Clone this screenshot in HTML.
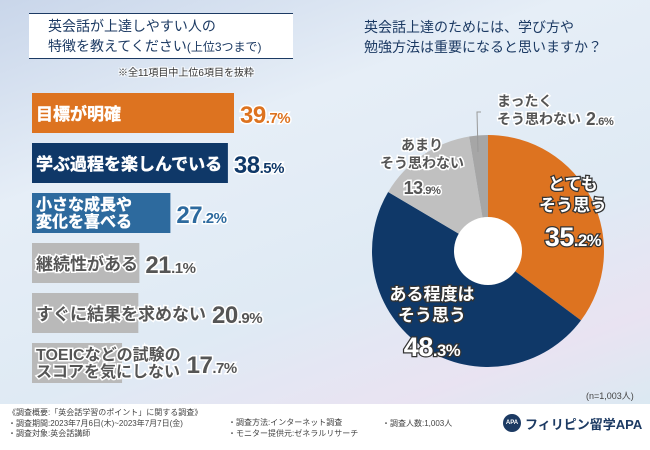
<!DOCTYPE html>
<html><head><meta charset="utf-8">
<style>
body{margin:0;width:650px;height:450px;overflow:hidden;font-family:"Liberation Sans","Noto Sans CJK JP",sans-serif;}
#root{position:relative;width:650px;height:450px;background:linear-gradient(160deg,#c9d6ea 0%,#e6eef7 30%,#dfeaf4 60%,#e9e3f2 80%,#d4ecf2 100%);}
.t{position:absolute;white-space:nowrap;}
.box{position:absolute;left:29px;top:13px;width:264px;height:44px;background:#fff;border-top:1.5px solid #1c3a63;border-bottom:1.5px solid #1c3a63;}
.out{text-shadow:-1px -1px 0 #fff,1px -1px 0 #fff,-1px 1px 0 #fff,1px 1px 0 #fff,0 0 2px #fff;}
</style></head><body>
<div id="root">
<div class="box"></div>
<div class="t" style="left:48px;top:16px;font-size:14px;line-height:20px;color:#1c3a63;">英会話が上達しやすい人の<br>特徴を教えてください<span style="font-size:12px">(上位3つまで)</span></div>
<div class="t out" style="left:118px;top:64px;font-size:10px;color:#333;">※全11項目中上位6項目を抜粋</div>
<div class="t" style="left:364px;top:17px;font-size:14px;line-height:20px;color:#1c3a63;">英会話上達のためには、学び方や<br>勉強方法は重要になると思いますか？</div>
<svg id="chart" width="650" height="450" style="position:absolute;left:0;top:0"></svg>
<div class="t" style="left:586px;top:389px;font-size:9px;color:#444;">(n=1,003人)</div>
<div style="position:absolute;left:0;top:404px;width:650px;height:46px;background:#fff;"></div>
<div class="t" style="left:8px;top:408px;font-size:8px;line-height:10.5px;color:#444;">《調査概要:「英会話学習のポイント」に関する調査》<br>・調査期間:2023年7月6日(木)~2023年7月7日(金)<br>・調査対象:英会話講師</div>
<div class="t" style="left:228px;top:418px;font-size:8px;line-height:10.5px;color:#444;">・調査方法:インターネット調査<br>・モニター提供元:ゼネラルリサーチ</div>
<div class="t" style="left:382px;top:418px;font-size:8px;color:#444;">・調査人数:1,003人</div>
<div style="position:absolute;left:503px;top:414px;width:18px;height:18px;border-radius:50%;background:#1c3a63;color:#fff;font-size:6px;line-height:18px;text-align:center;font-weight:bold">APA</div>
<div class="t" style="left:525px;top:414px;font-size:13px;font-weight:bold;color:#1c3a63;">フィリピン留学APA</div>
</div>
<script>
const barLabels=[["目標が明確"],["学ぶ過程を楽しんでいる"],["小さな成長や","変化を喜べる"],["継続性がある"],["すぐに結果を求めない"],["TOEICなどの試験の","スコアを気にしない"]];
const barValues=[39.7,38.5,27.2,21.1,20.9,17.7];
const barColors=["#dd7320","#0f3868","#2d6a9e","#b9b9b9","#b9b9b9","#b9b9b9"];
const pieLabels=[["とても","そう思う"],["ある程度は","そう思う"],["あまり","そう思わない"],["まったく","そう思わない"]];
const pieValues=[35.2,48.3,13.9,2.6];
const pieColors=["#dd7320","#0f3868","#c0c0c0","#a6a6a6"];
const svg=document.getElementById('chart');
const NS="http://www.w3.org/2000/svg";
function mk(tag,attrs){const e=document.createElementNS(NS,tag);for(const k in attrs)e.setAttribute(k,attrs[k]);svg.appendChild(e);return e;}
const x0=32,pxPer=202/39.7,y0=93,step=50,bh=40;
function xs(v){return v*pxPer;}
function fmt(v){return v.toFixed(1).split('.');}
barValues.forEach((v,i)=>{
 const y=y0+i*step;
 const r=mk('rect',{x:x0,y:y,width:xs(v),height:bh,fill:barColors[i]});
 
 
 const dark=i<3;
 const lines=barLabels[i];
 const fs=lines.length>1?16:17;
 let maxW=0;
 lines.forEach((l,j)=>{
  const t=mk('text',{x:x0+4,y:y+(lines.length>1?17+j*17:27),'font-size':fs,fill:dark?'#fff':'#555','font-weight':'bold'});
  if(dark){t.setAttribute('stroke','#fff');t.setAttribute('stroke-width','0.4');}
  else{t.setAttribute('stroke','#fff');t.setAttribute('stroke-width','3');t.setAttribute('paint-order','stroke');}
  t.textContent=l;
  
  
  maxW=Math.max(maxW,t.getComputedTextLength());
 });
 const lx=Math.max(x0+xs(v),x0+4+maxW)+6;
 const p=fmt(v);
 const col=i==0?'#dd7320':(i<3?barColors[i]:'#555');
 const t=mk('text',{x:lx,y:y+30,fill:col,stroke:'#fff','stroke-width':3,'paint-order':'stroke','font-weight':'bold','font-size':24,'letter-spacing':-0.5});
 t.innerHTML='<tspan>'+p[0]+'</tspan><tspan font-size="15">.'+p[1]+'%</tspan>';
 
 
});
const cx=488,cy=251,R=116,r0=34;
const tot=pieValues.reduce((a,b)=>a+b,0);
let a=0;
pieValues.forEach((v,i)=>{
 const a1=a+v/tot*2*Math.PI;
 const p=(ang,rr)=>[cx+rr*Math.sin(ang),cy-rr*Math.cos(ang)];
 const [x1,y1]=p(a,R),[x2,y2]=p(a1,R);
 const large=(a1-a)>Math.PI?1:0;
 const s=mk('path',{d:`M${cx},${cy}L${x1},${y1}A${R},${R} 0 ${large} 1 ${x2},${y2}Z`,fill:pieColors[i]});
 
 
 a=a1;
});
const h=mk('circle',{cx:cx,cy:cy,r:r0,fill:'#fff'});


const ld=mk('polyline',{points:'481,112 477,112 478,152',fill:'none',stroke:'#999','stroke-width':1});


const lpos=[[573,190],[432,300],[422,150],[497,106]];
pieValues.forEach((v,i)=>{
 const [lx,ly]=lpos[i];
 const white=i<2;
 const fs=i<2?17:14;
 const big=i<2?27:18;
 const anchor=i==3?'start':'middle';
 let lastW=0;
 pieLabels[i].forEach((l,j)=>{
  const t=mk('text',{x:lx,y:ly+j*(fs+4),'text-anchor':anchor,'font-size':fs,'font-weight':'bold',fill:white?'#fff':'#555',stroke:white?'#333':'#fff','stroke-width':white?2.5:3,'paint-order':'stroke'});
  t.textContent=l;
  
  
  lastW=t.getComputedTextLength();
 });
 const p=fmt(v);
 const yy=i==3?ly+fs+5:ly+pieLabels[i].length*(fs+4)+(i<2?14:8);
 const xx=i==3?lx+lastW+5:lx;
 const t=mk('text',{x:xx,y:yy,'text-anchor':i==3?'start':'middle','font-size':big,'font-weight':'bold',fill:white?'#fff':'#555',stroke:white?'#333':'#fff','stroke-width':white?2.5:3,'paint-order':'stroke','letter-spacing':-0.5});
 t.innerHTML='<tspan>'+p[0]+'</tspan><tspan font-size="'+(big*0.62)+'">.'+p[1]+'%</tspan>';
 
 
});
</script>
</body></html>
